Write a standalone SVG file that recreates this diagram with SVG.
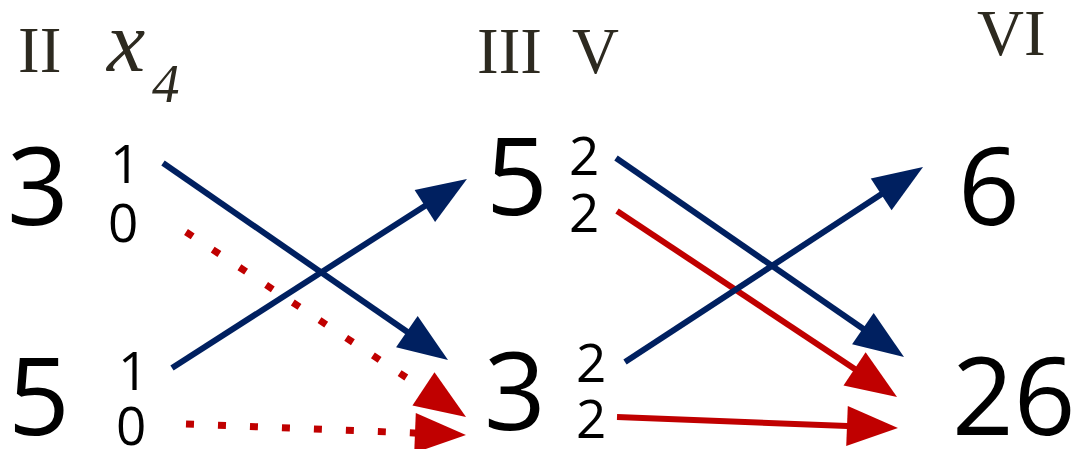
<svg xmlns="http://www.w3.org/2000/svg" width="1077" height="449" viewBox="0 0 1077 449">
<style>
.rn{font-family:"Liberation Serif","DejaVu Serif",serif;fill:#2d2a20}
.big{font-family:"Open Sans","Liberation Sans",sans-serif;font-size:108px;fill:#000}
.sm{font-family:"Open Sans","Liberation Sans",sans-serif;font-size:53px;fill:#000}
.b{stroke:#002060;stroke-width:6;fill:none}
.r{stroke:#c00000;stroke-width:6;fill:none}
.rd{stroke:#c00000;stroke-width:7;fill:none;stroke-dasharray:8 24}
</style>
<defs>
<marker id="ab" markerUnits="userSpaceOnUse" markerWidth="70" markerHeight="60" viewBox="-10 -30 70 60" refX="0" refY="0" orient="auto"><path d="M-6,-19 L44,0 L-6,19 Z" fill="#002060"/></marker>
<marker id="ar" markerUnits="userSpaceOnUse" markerWidth="70" markerHeight="60" viewBox="-10 -30 70 60" refX="0" refY="0" orient="auto"><path d="M-7,-20 L44,0 L-7,20 Z" fill="#c00000"/></marker>
</defs>
<g id="headers">
<text class="rn" x="18" y="72" font-size="65">II</text>
<text class="rn" x="107" y="71" font-size="86" font-style="italic">x</text>
<text class="rn" x="152" y="102" font-size="55" font-style="italic">4</text>
<text class="rn" x="477" y="73" font-size="65">III</text>
<text class="rn" x="572" y="73" font-size="65">V</text>
<text class="rn" x="977" y="55" font-size="65">VI</text>
</g>
<g id="node-II-top"><text class="big" x="7" y="225">3</text><text class="sm" x="110" y="183">1</text><text class="sm" x="108" y="242">0</text></g>
<g id="node-II-bottom"><text class="big" x="8" y="435">5</text><text class="sm" x="118" y="390">1</text><text class="sm" x="116" y="445">0</text></g>
<g id="node-III-top"><text class="big" x="486" y="215">5</text><text class="sm" x="569" y="175">2</text><text class="sm" x="569" y="232">2</text></g>
<g id="node-III-bottom"><text class="big" x="484" y="430">3</text><text class="sm" x="576" y="382">2</text><text class="sm" x="576" y="438">2</text></g>
<g id="node-VI-top"><text class="big" x="958" y="225">6</text></g>
<g id="node-VI-bottom"><text class="big" x="952" y="435">26</text></g>
<g id="connectors">
<line class="b" x1="163" y1="163" x2="411.8" y2="335" marker-end="url(#ab)"/>
<line class="b" x1="172" y1="368" x2="429.9" y2="202.7" marker-end="url(#ab)"/>
<line class="rd" x1="186" y1="232" x2="429.3" y2="392.7" marker-end="url(#ar)"/>
<line class="rd" x1="186" y1="424" x2="422" y2="433.3" marker-end="url(#ar)"/>
<line class="b" x1="616" y1="158" x2="867.8" y2="332" marker-end="url(#ab)"/>
<line class="r" x1="617" y1="211" x2="860.4" y2="372.7" marker-end="url(#ar)"/>
<line class="b" x1="625" y1="362" x2="886.2" y2="191.1" marker-end="url(#ab)"/>
<line class="r" x1="617" y1="417" x2="854" y2="426.3" marker-end="url(#ar)"/>
</g>
</svg>
